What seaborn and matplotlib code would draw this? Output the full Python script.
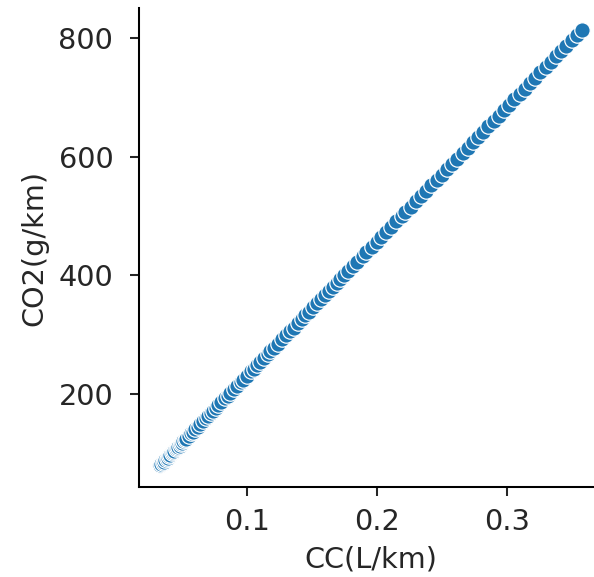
import matplotlib
matplotlib.use("Agg")
import matplotlib.pyplot as plt
import seaborn as sns
import pandas as pd

# Fuel consumption per km and matching CO2 emission per km
cc_l_per_km = [
    0.033, 0.034, 0.035, 0.036, 0.037, 0.038, 0.039, 0.040, 0.041, 0.042,
    0.043, 0.044, 0.045, 0.046, 0.047, 0.048, 0.049, 0.050, 0.051, 0.052,
    0.053, 0.055, 0.057, 0.058, 0.060, 0.062, 0.064, 0.066, 0.068, 0.070,
    0.072, 0.074, 0.076, 0.078, 0.080, 0.083, 0.085, 0.087, 0.090, 0.092,
    0.095, 0.097, 0.100, 0.103, 0.105, 0.108, 0.110, 0.113, 0.116, 0.118,
    0.121, 0.124, 0.127, 0.130, 0.133, 0.136, 0.139, 0.142, 0.145, 0.148,
    0.151, 0.154, 0.157, 0.160, 0.163, 0.166, 0.169, 0.172, 0.175, 0.178,
    0.182, 0.185, 0.189, 0.192, 0.196, 0.200, 0.203, 0.207, 0.211, 0.215,
    0.219, 0.222, 0.226, 0.230, 0.234, 0.238, 0.242, 0.246, 0.250, 0.254,
    0.258, 0.262, 0.266, 0.270, 0.274, 0.278, 0.282, 0.286, 0.290, 0.294,
    0.298, 0.302, 0.306, 0.310, 0.314, 0.318, 0.322, 0.326, 0.330, 0.334,
    0.338, 0.342, 0.346, 0.350, 0.354, 0.358,
]
co2_g_per_km = [
    80, 82, 84, 86, 89, 91, 93, 95, 98, 100,
    102, 104, 107, 109, 111, 113, 116, 118, 120, 123,
    125, 129, 134, 136, 141, 145, 150, 154, 159, 163,
    168, 172, 177, 181, 186, 193, 197, 202, 208, 213,
    220, 224, 231, 238, 242, 249, 254, 260, 267, 272,
    278, 285, 292, 299, 306, 312, 319, 326, 333, 339,
    346, 353, 360, 367, 373, 380, 387, 394, 400, 407,
    416, 423, 432, 439, 448, 457, 464, 473, 482, 491,
    500, 507, 516, 525, 534, 543, 552, 561, 570, 579,
    588, 597, 606, 615, 624, 633, 642, 651, 660, 669,
    678, 688, 697, 706, 715, 724, 733, 742, 751, 760,
    769, 778, 787, 796, 805, 814,
]

df = pd.DataFrame({"CC(L/km)": cc_l_per_km, "CO2(g/km)": co2_g_per_km})

plt.rcParams["font.family"] = ["DejaVu Sans"]
plt.rcParams["font.size"] = 11.2
for key in ("text.color", "axes.labelcolor", "xtick.color", "ytick.color"):
    plt.rcParams[key] = "#262626"

dpi = 185
fig = plt.figure(figsize=(594 / dpi, 577 / dpi), dpi=dpi)
ax = fig.add_axes([139 / 594, 1 - 487 / 577, (603 - 139) / 594, (487 - 8) / 577])

sns.scatterplot(data=df, x="CC(L/km)", y="CO2(g/km)", ax=ax, color="#1f77b4")
ax.set_xticks([0.1, 0.2, 0.3])
ax.set_yticks([200, 400, 600, 800])
ax.tick_params(axis="y", pad=6.5)
ax.tick_params(axis="x", pad=4.5)
sns.despine(ax=ax)

fig.savefig("out.png", dpi=dpi)
